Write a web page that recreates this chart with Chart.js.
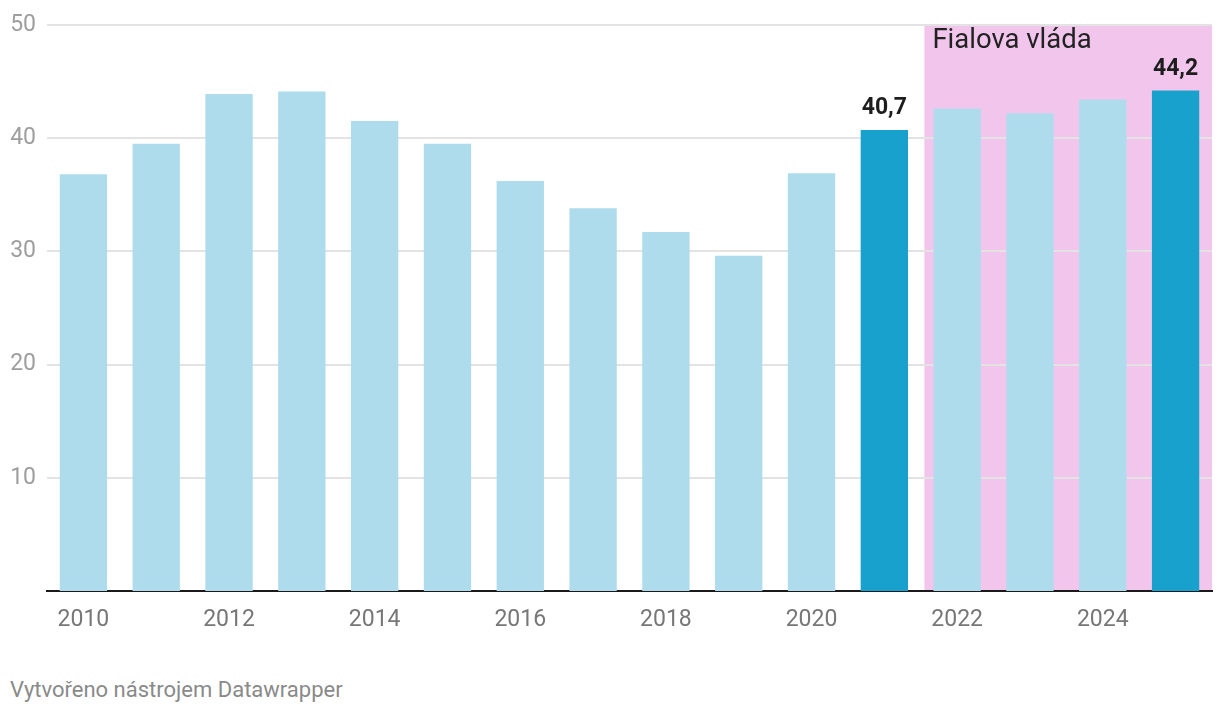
<!DOCTYPE html>
<html lang="cs">
<head>
  <meta charset="UTF-8">
  <title>Fialova vláda</title>
  <script src="https://cdn.jsdelivr.net/npm/chart.js"></script>
  <style>
    body {
      margin: 0;
      font-family: Roboto, sans-serif;
      background: #fff;
    }
    .chart-container {
      position: relative;
      width: 1220px;
      height: 640px;
    }
    .footer {
      position: absolute;
      left: 10px;
      top: 677px;
      font-size: 22px;
      color: #8a8a8a;
    }
  </style>
</head>
<body>
  <div class="chart-container">
    <canvas id="chart"></canvas>
  </div>
  <div class="footer">Vytvořeno nástrojem Datawrapper</div>

  <script>
    // data
    const years = ["2010", "2011", "2012", "2013", "2014", "2015", "2016", "2017",
                   "2018", "2019", "2020", "2021", "2022", "2023", "2024", "2025"];
    const values = [36.8, 39.5, 43.9, 44.1, 41.5, 39.5, 36.2, 33.8,
                    31.7, 29.6, 36.9, 40.7, 42.6, 42.2, 43.4, 44.2];
    const highlighted = ["2021", "2025"];
    const yTicks = [10, 20, 30, 40, 50];
    const periodLabel = "Fialova vláda";
    const periodStart = "2022";

    const lightBlue = '#afdcec';
    const darkBlue = '#18a1cd';
    const pink = '#f2c6ec';

    const barColors = years.map(y => highlighted.includes(y) ? darkBlue : lightBlue);

    // pink band + its label
    const periodBand = {
      id: 'periodBand',
      beforeDraw(chart) {
        const { ctx, chartArea, scales } = chart;
        const idx = years.indexOf(periodStart);
        const left = scales.x.getPixelForValue(idx - 0.45);
        ctx.save();
        ctx.fillStyle = pink;
        ctx.fillRect(left, chartArea.top, chartArea.right - left, chartArea.bottom - chartArea.top);
        ctx.restore();
      },
      afterDatasetsDraw(chart) {
        const { ctx, chartArea, scales } = chart;
        const idx = years.indexOf(periodStart);
        const left = scales.x.getPixelForValue(idx - 0.45);
        ctx.save();
        ctx.font = '27.5px Roboto';
        ctx.fillStyle = '#222';
        ctx.textBaseline = 'middle';
        ctx.fillText(periodLabel, left + 8, chartArea.top + 16);

        // value labels on the highlighted bars
        const meta = chart.getDatasetMeta(0);
        ctx.font = 'bold 23px Roboto';
        ctx.textAlign = 'center';
        ctx.textBaseline = 'bottom';
        ctx.fillStyle = '#1d1d1d';
        highlighted.forEach(y => {
          const i = years.indexOf(y);
          const bar = meta.data[i];
          ctx.fillText(values[i].toFixed(1).replace('.', ','), bar.x, bar.y - 10);
        });
        ctx.restore();
      }
    };

    const ctx = document.getElementById('chart').getContext('2d');
    const chart = new Chart(ctx, {
      type: 'bar',
      data: {
        labels: years,
        datasets: [{
          data: values,
          backgroundColor: barColors,
          categoryPercentage: 1,
          barPercentage: 0.65
        }]
      },
      options: {
        responsive: true,
        maintainAspectRatio: false,
        animation: false,
        layout: {
          padding: { top: 24, right: 8, left: 0, bottom: 0 }
        },
        plugins: {
          legend: { display: false },
          tooltip: { enabled: false }
        },
        scales: {
          x: {
            grid: { display: false, drawTicks: false },
            border: { display: true, color: '#1a1a1a', width: 2 },
            ticks: {
              autoSkip: false,
              maxRotation: 0,
              padding: 15,
              color: '#777',
              font: { family: 'Roboto', size: 23 },
              callback: function (val, i) {
                const y = years[i];
                return Number(y) % 2 === 0 ? y : '';
              }
            },
            afterFit(scale) { scale.height = 49; }
          },
          y: {
            min: 0,
            max: 50,
            afterBuildTicks(scale) {
              scale.ticks = yTicks.map(v => ({ value: v }));
            },
            grid: {
              color: '#e3e3e3',
              lineWidth: 2,
              drawTicks: false
            },
            border: { display: false },
            ticks: {
              color: '#9e9e9e',
              padding: 11,
              font: { family: 'Roboto', size: 23 }
            },
            afterFit(scale) { scale.width = 47; }
          }
        }
      },
      plugins: [periodBand]
    });
  </script>
</body>
</html>
